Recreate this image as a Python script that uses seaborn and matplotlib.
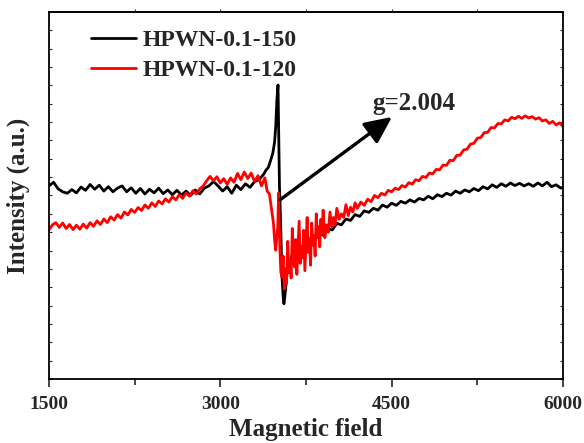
import numpy as np
import pandas as pd
import matplotlib
matplotlib.use("Agg")
import matplotlib.pyplot as plt
import seaborn as sns

# EPR spectra (intensity in arbitrary units, 0-100 axis)
field_150 = [1500, 1540, 1580, 1620, 1660, 1700, 1740, 1780, 1820, 1860, 1900, 1940, 1980, 2020,
             2060, 2100, 2140, 2180, 2220, 2260, 2300, 2340, 2380, 2420, 2460, 2500, 2540, 2580,
             2620, 2660, 2700, 2740, 2780, 2820, 2860, 2900, 2940, 2980, 3020, 3060, 3100, 3140,
             3180, 3220, 3260, 3300, 3340, 3380, 3400, 3420, 3440, 3460, 3475, 3485, 3495, 3505,
             3512, 3518, 3522, 3530, 3540, 3550, 3557, 3565, 3584, 3610, 3636, 3670, 3700, 3740,
             3780, 3820, 3860, 3900, 3940, 3980, 4020, 4060, 4100, 4140, 4180, 4220, 4260, 4300,
             4340, 4380, 4420, 4460, 4500, 4540, 4580, 4620, 4660, 4700, 4740, 4780, 4820, 4860,
             4900, 4940, 4980, 5020, 5060, 5100, 5140, 5180, 5220, 5260, 5300, 5340, 5380, 5420,
             5460, 5500, 5540, 5580, 5620, 5660, 5700, 5740, 5780, 5820, 5860, 5900, 5940, 5980, 6000]
int_150 = [52.6, 53.6, 51.8, 51.0, 50.6, 51.6, 50.7, 52.3, 51.4, 53.0, 51.7, 52.8, 51.2, 52.4,
           51.0, 52.0, 52.6, 51.0, 52.1, 50.6, 51.9, 50.4, 51.7, 50.7, 52.0, 50.5, 51.5, 50.2,
           51.4, 50.1, 51.2, 50.0, 51.5, 50.4, 52.0, 52.6, 53.8, 52.6, 51.2, 52.4, 50.6, 52.8,
           51.6, 53.2, 52.2, 53.8, 54.3, 55.8, 56.9, 57.6, 59.5, 61.6, 64.5, 68.7, 76.0, 80.1,
           65.0, 52.0, 48.8, 40.0, 27.8, 22.5, 20.5, 22.5, 28.9, 32.0, 34.5, 33.8, 36.2, 35.5,
           38.2, 37.6, 39.8, 39.2, 41.0, 40.6, 42.4, 42.0, 43.6, 43.2, 44.8, 44.3, 45.8, 45.4,
           46.5, 46.0, 47.4, 46.8, 47.9, 47.3, 48.4, 47.9, 48.8, 48.2, 49.2, 48.8, 49.8, 49.1,
           50.2, 49.7, 50.6, 50.1, 51.2, 50.6, 51.5, 51.0, 51.9, 51.3, 52.4, 51.8, 52.9, 52.2,
           53.2, 52.5, 53.4, 52.7, 53.3, 52.6, 53.2, 52.5, 53.4, 52.6, 53.6, 52.4, 52.9, 52.0, 52.3]

field_120 = [1500, 1530, 1560, 1590, 1620, 1650, 1680, 1710, 1740, 1770, 1800, 1830, 1860, 1890,
             1920, 1950, 1980, 2010, 2040, 2070, 2100, 2130, 2160, 2190, 2220, 2250, 2280, 2310,
             2340, 2370, 2400, 2430, 2460, 2490, 2520, 2550, 2580, 2610, 2640, 2670, 2700, 2730,
             2760, 2790, 2820, 2850, 2880, 2910, 2940, 2970, 3000, 3030, 3060, 3090, 3120, 3150,
             3180, 3210, 3240, 3270, 3300, 3330, 3360, 3390, 3410, 3430, 3450, 3465, 3475, 3485,
             3495, 3503, 3510, 3516, 3522, 3530, 3540, 3550, 3560, 3570, 3580, 3590, 3600, 3610,
             3620, 3630, 3640, 3650, 3660, 3670, 3680, 3690, 3700, 3710, 3720, 3730, 3740, 3750,
             3760, 3770, 3780, 3790, 3800, 3810, 3820, 3830, 3840, 3850, 3860, 3870, 3880, 3890,
             3900, 3915, 3930, 3945, 3960, 3975, 3990, 4005, 4020, 4040, 4060, 4080, 4100, 4120,
             4140, 4160, 4180, 4200, 4230, 4260, 4290, 4320, 4350, 4380, 4410, 4440, 4470, 4500,
             4530, 4560, 4590, 4620, 4650, 4680, 4710, 4740, 4770, 4800, 4830, 4860, 4890, 4920,
             4950, 4980, 5010, 5040, 5070, 5100, 5130, 5160, 5190, 5220, 5250, 5280, 5310, 5340,
             5370, 5400, 5430, 5460, 5490, 5520, 5550, 5580, 5610, 5640, 5670, 5700, 5730, 5760,
             5790, 5820, 5850, 5880, 5910, 5940, 5970, 6000]
int_120 = [40.6, 42.0, 42.6, 41.3, 42.5, 41.0, 42.1, 40.7, 41.9, 40.8, 42.2, 41.1, 42.6, 41.6,
           43.1, 42.1, 43.6, 42.6, 44.2, 43.3, 44.8, 43.8, 45.5, 44.7, 46.2, 45.4, 46.7, 45.9,
           47.4, 46.5, 48.0, 47.0, 48.5, 47.7, 49.1, 48.2, 49.7, 48.8, 50.2, 49.2, 50.7, 49.8,
           51.3, 50.4, 51.8, 52.6, 54.0, 55.2, 54.0, 55.1, 53.4, 54.6, 53.0, 54.8, 53.6, 56.0,
           54.3, 56.4, 54.6, 56.1, 53.8, 55.4, 52.6, 54.8, 51.2, 50.4, 46.0, 42.5, 38.0, 35.1,
           39.0, 41.4, 50.7, 42.0, 35.0, 29.0, 27.8, 33.5, 24.5, 30.0, 26.0, 37.5, 29.0, 32.5,
           27.5, 41.0, 33.0, 30.5, 38.0, 28.5, 35.5, 43.0, 31.5, 36.0, 33.0, 40.5, 29.5, 37.0,
           44.0, 34.5, 38.0, 31.0, 42.5, 36.5, 39.0, 33.5, 45.0, 38.5, 41.5, 36.0, 43.5, 39.5,
           46.0, 38.5, 42.0, 40.0, 45.5, 41.5, 44.0, 42.0, 46.5, 43.5, 45.0, 44.0, 47.5, 44.5,
           46.8, 45.5, 48.0, 46.5, 48.2, 47.3, 49.0, 48.3, 50.0, 49.4, 50.6, 50.1, 51.4, 51.0,
           52.0, 51.6, 52.7, 52.3, 53.5, 53.1, 54.3, 54.0, 55.2, 54.9, 56.1, 55.9, 57.1, 57.0,
           58.3, 58.2, 59.6, 59.5, 60.9, 61.0, 62.4, 62.6, 64.0, 64.2, 65.6, 65.8, 67.1, 67.2,
           68.5, 68.4, 69.6, 69.5, 70.6, 70.3, 71.3, 70.9, 71.6, 71.0, 71.7, 71.1, 71.5, 70.8,
           71.2, 70.3, 70.6, 69.6, 70.2, 69.2, 69.8, 68.8]

labels = ["HPWN-0.1-150", "HPWN-0.1-120"]
colors = ["black", "red"]
x_ticks = [1500, 3000, 4500, 6000]
x_minor = [2250, 3750, 5250]

df = pd.concat([
    pd.DataFrame({"field": field_150, "intensity": int_150, "sample": labels[0]}),
    pd.DataFrame({"field": field_120, "intensity": int_120, "sample": labels[1]}),
], ignore_index=True)

sns.set_style("ticks")
plt.rcParams["font.family"] = ["Liberation Serif", "DejaVu Serif"]
plt.rcParams["font.weight"] = "bold"

fig = plt.figure(figsize=(5.84, 4.43), dpi=100)
ax = fig.add_axes([0.0839, 0.1445, 0.8801, 0.8285])

sns.lineplot(data=df, x="field", y="intensity", hue="sample", palette=dict(zip(labels, colors)),
             estimator=None, sort=False, linewidth=2.0, ax=ax)

ax.set_xlim(1500, 6000)
ax.set_ylim(0, 100)
ax.set_xticks(x_ticks)
ax.set_xticks(x_minor, minor=True)
ax.set_xticklabels([str(t) for t in x_ticks], fontsize=14, fontweight="bold")
ax.set_yticks(np.arange(0, 101, 5))
ax.set_yticklabels([])
ax.tick_params(axis="x", which="major", direction="out", length=6, width=1.2, pad=6)
ax.tick_params(axis="x", which="minor", direction="out", length=4, width=1.2)
ax.tick_params(axis="y", direction="in", length=2, width=0.8, right=True)

# top ticks at every major/minor position, outward
top = ax.secondary_xaxis("top")
top.set_xticks(x_ticks[1:-1] + x_minor)
top.set_xticklabels([])
top.tick_params(direction="out", length=2, width=0.8)

for s in ax.spines.values():
    s.set_linewidth(1.3)
    s.set_color("black")
top.spines["top"].set_linewidth(1.3)

ax.set_xlabel("Magnetic field", fontsize=18, fontweight="bold", labelpad=4)
ax.set_ylabel("Intensity (a.u.)", fontsize=18, fontweight="bold", labelpad=10)

ax.annotate("", xy=(4503, 71.4), xytext=(3522, 48.8),
            arrowprops=dict(arrowstyle="-|>,head_length=0.75,head_width=0.35",
                            color="black", lw=2.4, mutation_scale=22, shrinkA=0, shrinkB=0))
ax.text(4696, 75.0, "g=2.004", fontsize=18, fontweight="bold", ha="center", va="center")

leg = ax.legend(loc="upper left", bbox_to_anchor=(0.04, 1.01), frameon=False,
                handlelength=1.9, handletextpad=0.3, labelspacing=0.35,
                prop={"size": 17, "weight": "bold"})
for line in leg.get_lines():
    line.set_linewidth(2)

fig.savefig("out.png", dpi=100)
